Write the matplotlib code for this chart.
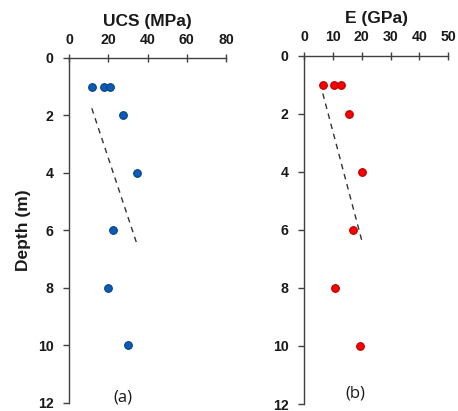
"""
Depth profiles of UCS and E with linear trend lines.
"""

import matplotlib
matplotlib.use("Agg")
import matplotlib.pyplot as plt

# ---------------------------------------------------------------------------
# Data
# ---------------------------------------------------------------------------
depth = [1, 1, 1, 2, 4, 6, 8, 10]
ucs = [11.6, 17.7, 20.9, 27.7, 34.5, 22.6, 19.7, 29.9]
e_mod = [6.5, 10.5, 12.7, 15.6, 20.0, 17.1, 10.7, 19.4]

# trend line end points (value, depth)
ucs_trend_x = [11.6, 34.5]
ucs_trend_depth = [1.75, 6.45]
e_trend_x = [6.5, 20.0]
e_trend_depth = [1.3, 6.36]

ucs_ticks = [0, 20, 40, 60, 80]
e_ticks = [0, 10, 20, 30, 40, 50]
depth_ticks = [0, 2, 4, 6, 8, 10, 12]

FONT = "Liberation Sans"
SPINE = "#404040"
TEXT = "#1a1a1a"


def style_axes(ax, xticks, xlabel, tag, tag_x, tag_y):
    ax.set_xlim(xticks[0], xticks[-1])
    ax.set_ylim(12, 0)
    ax.set_xticks(xticks)
    ax.set_yticks(depth_ticks)
    ax.xaxis.tick_top()
    ax.xaxis.set_label_position("top")
    for side in ("right", "bottom"):
        ax.spines[side].set_visible(False)
    for side in ("left", "top"):
        ax.spines[side].set_color(SPINE)
        ax.spines[side].set_linewidth(1.0)
    ax.tick_params(axis="x", direction="inout", length=5.5, width=1,
                   color=SPINE, pad=5.5)
    ax.tick_params(axis="y", direction="out", length=4, width=1,
                   color=SPINE, pad=7)
    for lab in ax.get_xticklabels() + ax.get_yticklabels():
        lab.set_fontfamily(FONT)
        lab.set_fontweight("bold")
        lab.set_fontsize(10.2)
        lab.set_color(TEXT)
    ax.set_xlabel(xlabel, fontfamily=FONT, fontweight="bold", fontsize=12.5,
                  labelpad=5, color=TEXT)
    ax.text(tag_x, tag_y, tag, transform=ax.transAxes, ha="center",
            va="center", fontfamily="Open Sans", fontsize=12, color=TEXT)


fig = plt.figure(figsize=(4.58, 4.11), dpi=100)
ax1 = fig.add_axes([0.1507, 0.0195, 0.3428, 0.8394])
ax2 = fig.add_axes([0.6638, 0.0170, 0.3151, 0.8474])

ax1.plot(ucs_trend_x, ucs_trend_depth, color="#333333", lw=1.0,
         dashes=(4, 3.5))
ax1.plot(ucs, depth, "o", ms=5.5, mfc="#0b5cb8", mec="#06417f", mew=0.8)
style_axes(ax1, ucs_ticks, "UCS (MPa)", "(a)", 0.34, 0.015)
ax1.set_ylabel("Depth (m)", fontfamily=FONT, fontweight="bold", fontsize=12.5,
               labelpad=5, color=TEXT)

ax2.plot(e_trend_x, e_trend_depth, color="#333333", lw=1.0, dashes=(4, 3.5))
ax2.plot(e_mod, depth, "o", ms=5.5, mfc="#ff0000", mec="#b00000", mew=0.8)
style_axes(ax2, e_ticks, "E (GPa)", "(b)", 0.354, 0.031)

fig.savefig("out.png", dpi=100)
plt.close(fig)
